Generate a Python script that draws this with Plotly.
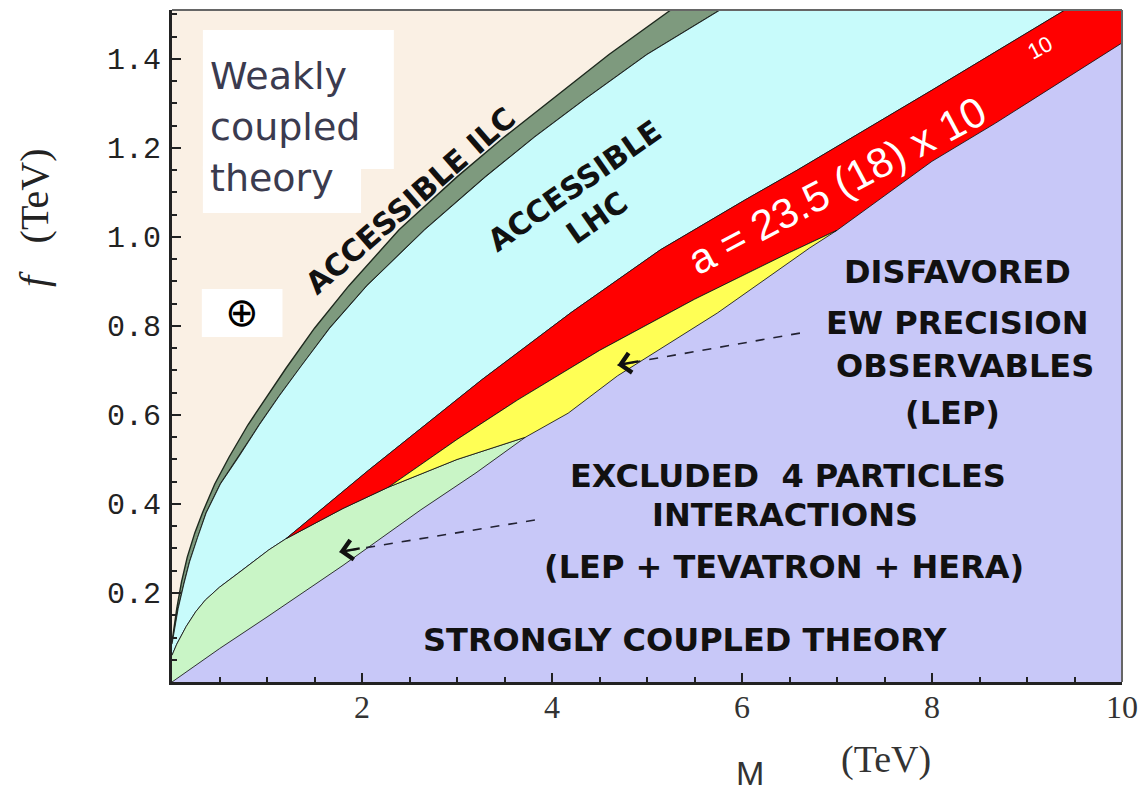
import plotly.graph_objects as go

# ---- boundary curves (M in TeV, f in TeV) ----
ilc_outer_M = [0.0, 0.02, 0.05, 0.1, 0.16, 0.24, 0.32, 0.45, 0.6, 0.8, 1.0, 1.2, 1.5, 1.86, 2.39, 3.0, 3.5, 4.0, 4.6, 5.25]
ilc_outer_f = [0.09, 0.125, 0.165, 0.225, 0.28, 0.335, 0.38, 0.445, 0.505, 0.578, 0.643, 0.705, 0.795, 0.89, 1.016, 1.135, 1.225, 1.31, 1.41, 1.51]

ilc_inner_M = [0.0, 0.03, 0.065, 0.125, 0.185, 0.27, 0.36, 0.51, 0.7, 0.92, 1.13, 1.36, 1.66, 2.05, 2.66, 3.3, 3.82, 4.35, 5.0, 5.77]
ilc_inner_f = [0.085, 0.12, 0.165, 0.22, 0.27, 0.325, 0.38, 0.445, 0.505, 0.578, 0.643, 0.71, 0.795, 0.89, 1.016, 1.135, 1.225, 1.31, 1.41, 1.51]

green_top_M = [0.0, 0.05, 0.15, 0.25, 0.35, 0.5, 0.7, 1.02, 1.2, 1.8, 2.28]
green_top_f = [0.06, 0.085, 0.125, 0.158, 0.184, 0.213, 0.245, 0.297, 0.322, 0.39, 0.438]

green_yellow_M = [2.28, 3.0, 3.72]
green_yellow_f = [0.438, 0.50, 0.55]

lav_low_M = [0.0, 0.5, 1.0, 1.8, 2.62, 3.2, 3.72]
lav_low_f = [0.0, 0.075, 0.146, 0.262, 0.387, 0.47, 0.55]

lav_up_M = [3.72, 4.17, 4.69, 5.74, 6.71, 7.0]
lav_up_f = [0.55, 0.604, 0.688, 0.829, 0.975, 1.015]

red_top_M = [1.2, 2.07, 3.26, 4.2, 5.14, 6.03, 6.58, 8.0, 9.40, 10.0]
red_top_f = [0.322, 0.476, 0.679, 0.83, 0.971, 1.083, 1.15, 1.33, 1.51, 1.51]

yellow_top_M = [2.28, 3.0, 3.64, 4.5, 5.5, 6.5, 7.0]
yellow_top_f = [0.438, 0.545, 0.634, 0.745, 0.86, 0.965, 1.015]

red_bot_M = [7.0, 8.0, 8.67, 10.0]
red_bot_f = [1.015, 1.17, 1.256, 1.436]

F_TOP = 1.51
M_MAX = 10.0

x_tickvals = [2, 4, 6, 8, 10]
y_tickvals = [0.2, 0.4, 0.6, 0.8, 1.0, 1.2, 1.4]
y_ticktext = ["0.2", "0.4", "0.6", "0.8", "1.0", "1.2", "1.4"]

# arrows (tail -> head)
arrow_ew = dict(tail=(6.61, 0.784), head=(4.69, 0.712))
arrow_4p = dict(tail=(3.82, 0.364), head=(1.76, 0.292))

C_BEIGE = "#faf0e4"
C_ILC = "#7e9a7e"
C_CYAN = "#c8fbfb"
C_GREEN = "#c9f5c6"
C_RED = "#ff0000"
C_YELLOW = "#ffff55"
C_LAV = "#c8c8f8"
EDGE = "rgba(20,20,20,0.85)"

rev = lambda a: list(reversed(a))

fig = go.Figure()

def poly(xs, ys, color, lw=1.0, lc=EDGE):
    fig.add_trace(go.Scatter(x=xs, y=ys, fill="toself", fillcolor=color, mode="lines",
                             line=dict(color=lc, width=lw), hoverinfo="skip", showlegend=False))

# beige (weakly coupled)
poly(ilc_outer_M + [0.0], ilc_outer_f + [F_TOP], C_BEIGE, lw=0)
# ILC band
poly(ilc_outer_M + rev(ilc_inner_M), ilc_outer_f + rev(ilc_inner_f), C_ILC, lw=1.4, lc="#1e2a1e")
# cyan (LHC accessible)
gt_to_tip_M = [m for m in green_top_M if m <= 1.2]
gt_to_tip_f = green_top_f[:len(gt_to_tip_M)]
poly(ilc_inner_M + [red_top_M[-2]] + rev(red_top_M[:-2]) + rev(gt_to_tip_M),
     ilc_inner_f + [F_TOP] + rev(red_top_f[:-2]) + rev(gt_to_tip_f), C_CYAN, lw=1.0)
# light green (excluded 4 particle interactions)
poly(green_top_M + green_yellow_M[1:] + rev(lav_low_M)[1:],
     green_top_f + green_yellow_f[1:] + rev(lav_low_f)[1:], C_GREEN, lw=1.0)
# red band
gt_tail_M = [m for m in green_top_M if m >= 1.2]
gt_tail_f = green_top_f[len(green_top_M) - len(gt_tail_M):]
poly(red_top_M + rev(red_bot_M) + rev(yellow_top_M)[1:] + rev(gt_tail_M)[1:],
     red_top_f + rev(red_bot_f) + rev(yellow_top_f)[1:] + rev(gt_tail_f)[1:], C_RED, lw=1.0)
# yellow (disfavoured EW precision)
poly(yellow_top_M + rev(lav_up_M)[1:] + rev(green_yellow_M)[1:],
     yellow_top_f + rev(lav_up_f)[1:] + rev(green_yellow_f)[1:], C_YELLOW, lw=1.0)

# dashed arrow shafts
for a in (arrow_ew, arrow_4p):
    fig.add_trace(go.Scatter(x=[a["tail"][0], a["head"][0]], y=[a["tail"][1], a["head"][1]],
                             mode="lines", line=dict(color="#223", width=1.6, dash="dash"),
                             hoverinfo="skip", showlegend=False))

ann = []
def txt(x, y, t, size=32, color="#111", family="DejaVu Sans", angle=0, bold=True, **kw):
    d = dict(x=x, y=y, xref="x", yref="y", text=("<b>%s</b>" % t) if bold else t,
             showarrow=False, textangle=angle, xanchor="center", yanchor="middle",
             font=dict(family=family, size=size, color=color))
    d.update(kw)
    ann.append(d)

# arrowheads
for a in (arrow_ew, arrow_4p):
    ann.append(dict(x=a["head"][0], y=a["head"][1], xref="x", yref="y", text="",
                    showarrow=True, arrowhead=4, arrowsize=1.6, arrowwidth=2.4,
                    arrowcolor="#111", ax=22, ay=-4))

txt(2.51, 1.083, "ACCESSIBLE ILC", size=30, angle=-41)
txt(4.35, 1.079, "ACCESSIBLE<br>LHC", size=30, angle=-35)
txt(7.0, 1.115, "a = 23.5 (18) x 10", size=42, color="white", family="Liberation Sans", angle=-28, bold=False)
txt(9.14, 1.425, "10", size=22, color="white", family="Liberation Sans", angle=-28, bold=False)

txt(8.27, 0.921, "DISFAVORED")
txt(8.27, 0.807, "EW PRECISION")
txt(8.35, 0.710, "OBSERVABLES")
txt(8.22, 0.604, "(LEP)")
txt(6.48, 0.462, "EXCLUDED  4 PARTICLES")
txt(6.45, 0.375, "INTERACTIONS")
txt(6.44, 0.258, "(LEP + TEVATRON + HERA)")
txt(5.40, 0.094, "STRONGLY COUPLED THEORY")

txt(0.377, 1.362, "Weakly", size=38, color="#3b3b4f", bold=False, xanchor="left")
txt(0.377, 1.247, "coupled", size=38, color="#3b3b4f", bold=False, xanchor="left")
txt(0.377, 1.133, "theory", size=38, color="#3b3b4f", bold=False, xanchor="left")
txt(0.733, 0.831, "\u2295", size=40, color="#000", bold=False)

# axis titles
def ptxt(x, y, t, family, size, angle=0, color="#333"):
    ann.append(dict(x=x, y=y, xref="paper", yref="paper", text=t, showarrow=False,
                    xanchor="center", yanchor="middle", textangle=angle,
                    font=dict(family=family, size=size, color=color)))

ptxt(0.608, -0.135, "M", "Liberation Sans", 34)
ptxt(0.752, -0.116, "(TeV)", "Liberation Serif", 38)
ptxt(-0.145, 0.60, "<i>f</i>", "Liberation Serif", 40, angle=-90, color="#222")
ptxt(-0.145, 0.723, "(TeV)", "Liberation Serif", 40, angle=-90, color="#222")

shapes = [
    dict(type="rect", xref="x", yref="y", x0=0.325, x1=2.335, y0=1.153, y1=1.465,
         fillcolor="white", line=dict(width=0), layer="above"),
    dict(type="rect", xref="x", yref="y", x0=0.325, x1=1.99, y0=1.054, y1=1.16,
         fillcolor="white", line=dict(width=0), layer="above"),
    dict(type="rect", xref="x", yref="y", x0=0.314, x1=1.163, y0=0.775, y1=0.883,
         fillcolor="white", line=dict(width=0), layer="above"),
    dict(type="line", xref="paper", yref="paper", x0=0, x1=1, y0=1, y1=1,
         line=dict(color="#666", width=2), layer="above"),
    dict(type="line", xref="paper", yref="paper", x0=1, x1=1, y0=0, y1=1,
         line=dict(color="#666", width=2), layer="above"),
]

fig.update_layout(
    width=1148, height=800,
    margin=dict(l=172, r=21, t=10, b=118),
    paper_bgcolor="white", plot_bgcolor=C_LAV,
    annotations=ann, shapes=shapes, showlegend=False,
)
fig.update_xaxes(range=[0, M_MAX], tickmode="array", tickvals=x_tickvals,
                 ticks="inside", ticklen=9, tickwidth=2, tickcolor="#222",
                 minor=dict(tickmode="linear", tick0=0, dtick=0.5, ticks="inside",
                            ticklen=5, tickwidth=1.5, tickcolor="#222"),
                 showgrid=False, zeroline=False, showline=True, linecolor="#222", linewidth=3,
                 tickfont=dict(family="Liberation Serif", size=32, color="#333"),
                 ticklabelstandoff=-5)
fig.update_yaxes(range=[0, F_TOP], tickmode="array", tickvals=y_tickvals, ticktext=y_ticktext,
                 ticks="inside", ticklen=9, tickwidth=2, tickcolor="#222",
                 minor=dict(tickmode="linear", tick0=0, dtick=0.05, ticks="inside",
                            ticklen=5, tickwidth=1.5, tickcolor="#222"),
                 showgrid=False, zeroline=False, showline=True, linecolor="#222", linewidth=3,
                 tickfont=dict(family="Liberation Mono", size=30, color="#222"),
                 ticklabelstandoff=2)

fig.write_html("out.html")
